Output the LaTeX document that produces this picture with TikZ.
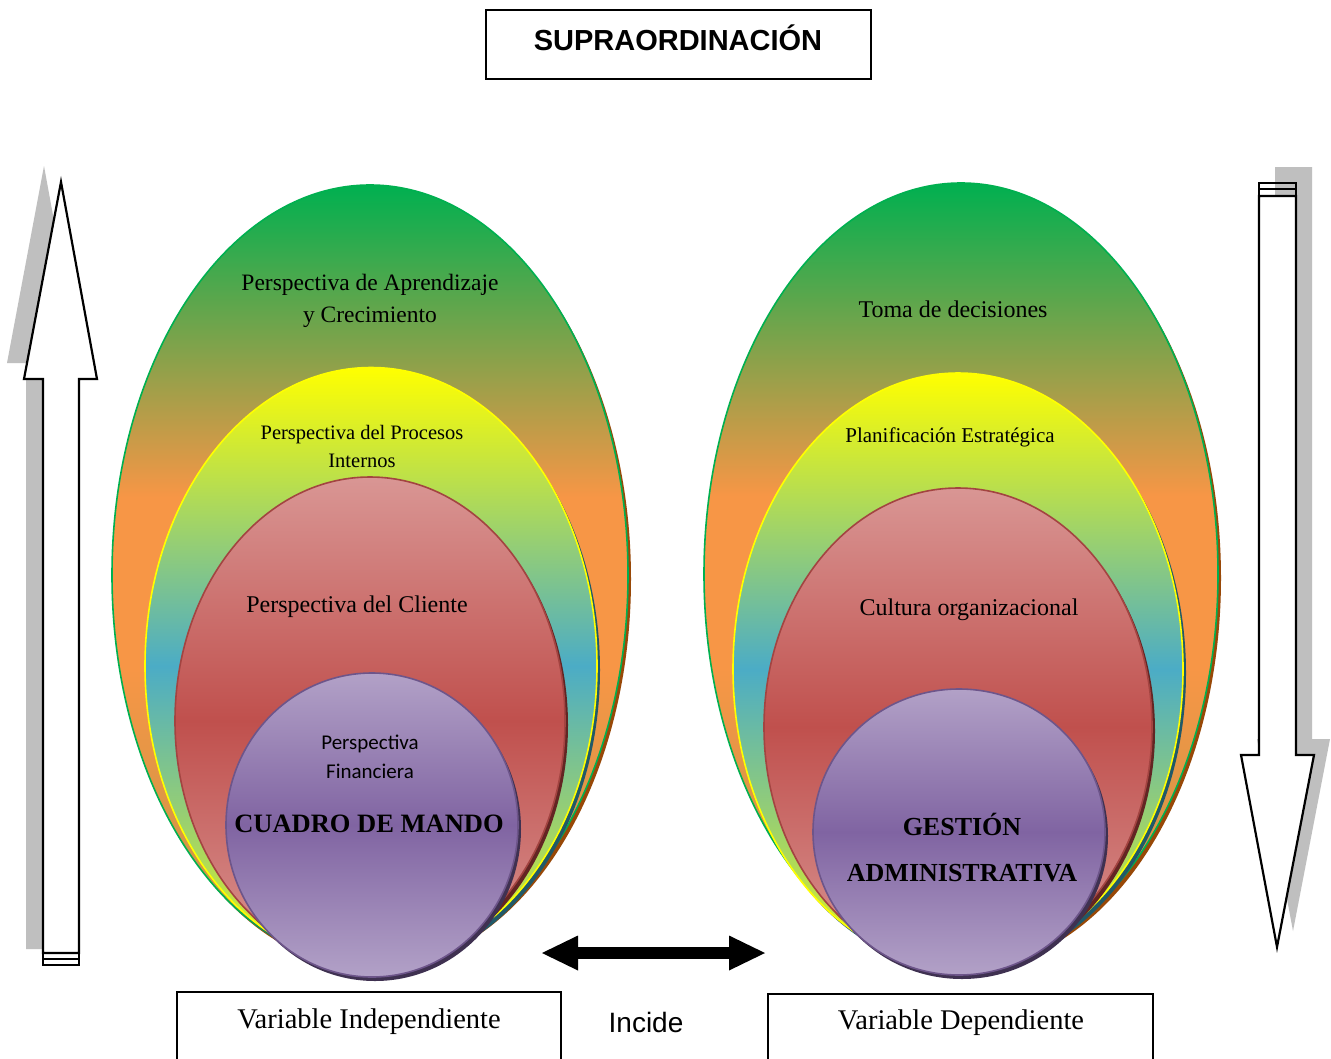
\documentclass[tikz,border=0pt]{standalone}
\usepackage{fontspec}
\setmainfont{Liberation Serif}
\newfontfamily\arialf{Liberation Sans}
\newfontfamily\calif{Carlito}
\usetikzlibrary{shapes.geometric,arrows.meta}

% fill and outline colours
\definecolor{cGreen}{RGB}{0,176,80}
\definecolor{cOrange}{RGB}{247,150,70}
\definecolor{cOlive}{RGB}{190,150,70}
\definecolor{cYellow}{RGB}{255,255,0}
\definecolor{cBlue}{RGB}{75,172,198}
\definecolor{cPink}{RGB}{217,150,148}
\definecolor{cRed}{RGB}{192,80,77}
\definecolor{cLilac}{RGB}{178,161,199}
\definecolor{cPurple}{RGB}{128,100,162}
\definecolor{sBrown}{RGB}{152,72,7}
\definecolor{sTeal}{RGB}{33,89,104}
\definecolor{sMaroon}{RGB}{99,37,35}
\definecolor{sPlum}{RGB}{63,49,81}
\definecolor{arrowShade}{RGB}{191,191,191}

% outer layer: green on top, a wide orange band, olive at the bottom
% (the path's bounding box spans 25bp..75bp of the shading)
\pgfdeclareverticalshading{greenorange}{100bp}{%
  color(0bp)=(cOlive); color(25bp)=(cOlive);
  color(44bp)=(cOrange); color(55bp)=(cOrange);
  color(75bp)=(cGreen); color(100bp)=(cGreen)}

\begin{document}
\begin{tikzpicture}[x=1pt,y=-1pt,
  egg/.style={ellipse, inner sep=0pt, outer sep=0pt, line width=1.6pt},
  layerA/.style={egg, draw=cGreen, shading=greenorange},
  layerB/.style={egg, draw=cYellow, top color=cYellow, bottom color=cYellow!85!cBlue, middle color=cBlue},
  layerC/.style={egg, draw=cRed!85!black, top color=cPink, bottom color=cPink, middle color=cRed},
  layerD/.style={egg, draw=cPurple!85!black, top color=cLilac, bottom color=cLilac, middle color=cPurple},
  shadowA/.style={egg, fill=sBrown},
  shadowB/.style={egg, fill=sTeal},
  shadowC/.style={egg, fill=sMaroon},
  shadowD/.style={egg, fill=sPlum},
  frame/.style={draw=black, line width=1.8pt, inner sep=0pt, outer sep=0pt},
  lbl/.style={align=center, inner sep=0pt, text=black},
  blockarrow/.style={draw=black, fill=white, line width=2.2pt, line join=miter},
  arrowshadow/.style={fill=arrowShade},
  incide/.style={line width=12pt, {Triangle[length=36pt,width=35pt,line width=0pt]}-{Triangle[length=36pt,width=35pt,line width=0pt]}}
]
\useasboundingbox (0,0) rectangle (1331,1058);
\clip (0,0) rectangle (1331,1058);
\fill[white] (0,0) rectangle (1331,1058);

% ---------- title box ----------
\node[frame, minimum width=385pt, minimum height=69pt, anchor=north west] (title) at (486,10) {};
\node[lbl, font=\arialf\bfseries\fontsize{29}{34}\selectfont] (titletext) at (678,38) {SUPRAORDINACIÓN};

% ---------- left block arrow (pointing up) ----------
\begin{scope}[shift={(-17,-16)}]
  \fill[arrowshadow] (43,965) -- (43,379) -- (24,379) -- (61,182) -- (97,379) -- (79,379) -- (79,965) -- cycle;
\end{scope}
\draw[blockarrow] (43,953) -- (43,379) -- (24,379) -- (61,182) -- (97,379) -- (79,379) -- (79,953) -- cycle;
\draw[line width=2pt] (43,953) rectangle (79,965);
\draw[line width=2.2pt] (43,959) -- (79,959);

% ---------- right block arrow (pointing down) ----------
\begin{scope}[shift={(16,-16)}]
  \fill[arrowshadow] (1259,183) -- (1259,755) -- (1241,755) -- (1277,947) -- (1314,755) -- (1296,755) -- (1296,183) -- cycle;
\end{scope}
\draw[blockarrow] (1259,196) -- (1259,755) -- (1241,755) -- (1277,947) -- (1314,755) -- (1296,755) -- (1296,196) -- cycle;
\draw[line width=2pt] (1259,183) rectangle (1296,196);
\draw[line width=2.2pt] (1259,189) -- (1296,189);

% ---------- left nest: Cuadro de Mando ----------
\node[shadowA, minimum width=516pt, minimum height=780pt] (LAs) at (373,579) {};
\node[layerA,  minimum width=516pt, minimum height=780pt] (LA) at (370,575) {};
\node[shadowB, minimum width=452pt, minimum height=597pt] (LBs) at (374,670) {};
\node[layerB,  minimum width=452pt, minimum height=597pt] (LB) at (371,666) {};
\node[shadowC, minimum width=390pt, minimum height=488pt] (LCs) at (373,725) {};
\node[layerC,  minimum width=390pt, minimum height=488pt] (LC) at (370,721) {};
\node[shadowD, minimum width=292pt, minimum height=304pt] (LDs) at (375,829) {};
\node[layerD,  minimum width=292pt, minimum height=304pt] (LD) at (372,825) {};

\node[lbl, font=\fontsize{23.5}{32}\selectfont] (LAt) at (370,301) {Perspectiva de Aprendizaje\\y Crecimiento};
\node[lbl, font=\fontsize{20.5}{28}\selectfont] (LBt) at (362,446) {Perspectiva del Procesos\\Internos};
\node[lbl, font=\fontsize{24}{28}\selectfont] (LCt) at (357,607) {Perspectiva del Cliente};
\node[lbl, font=\calif\fontsize{21}{29}\selectfont] (LDt) at (370,757) {Perspectiva\\Financiera};
\node[lbl, font=\bfseries\fontsize{26.5}{30}\selectfont] (LDn) at (369,824) {CUADRO DE MANDO};

% ---------- right nest: Gestión Administrativa ----------
\node[shadowA, minimum width=514pt, minimum height=782pt] (RAs) at (964,578) {};
\node[layerA,  minimum width=514pt, minimum height=782pt] (RA) at (961,574) {};
\node[shadowB, minimum width=450pt, minimum height=592pt] (RBs) at (961,673) {};
\node[layerB,  minimum width=450pt, minimum height=592pt] (RB) at (958,669) {};
\node[shadowC, minimum width=388pt, minimum height=478pt] (RCs) at (961,731) {};
\node[layerC,  minimum width=388pt, minimum height=478pt] (RC) at (958,727) {};
\node[shadowD, minimum width=292pt, minimum height=286pt] (RDs) at (962,836) {};
\node[layerD,  minimum width=292pt, minimum height=286pt] (RD) at (959,832) {};

\node[lbl, font=\fontsize{24}{28}\selectfont] (RAt) at (953,309) {Toma de decisiones};
\node[lbl, font=\fontsize{21}{26}\selectfont] (RBt) at (950,437) {Planificación Estratégica};
\node[lbl, font=\fontsize{24}{28}\selectfont] (RCt) at (969,610) {Cultura organizacional};
\node[lbl, font=\bfseries\fontsize{26}{46}\selectfont] (RDn) at (962,848) {GESTIÓN\\ADMINISTRATIVA};

% ---------- relation between the two variables ----------
\coordinate (incL) at (542,953);
\coordinate (incR) at (765,953);
\draw[incide] (incL) -- (incR);
\node[lbl, font=\arialf\fontsize{28}{32}\selectfont] (inc) at (646,1022) {Incide};

% ---------- variable boxes ----------
\node[frame, minimum width=384pt, minimum height=90pt, anchor=north west] (vind) at (177,992) {};
\node[lbl, font=\fontsize{28.5}{32}\selectfont] (vindt) at (369,1022) {Variable Independiente};
\node[frame, minimum width=385pt, minimum height=90pt, anchor=north west] (vdep) at (768,994) {};
\node[lbl, font=\fontsize{28.5}{32}\selectfont] (vdept) at (961,1023) {Variable Dependiente};
\end{tikzpicture}
\end{document}
